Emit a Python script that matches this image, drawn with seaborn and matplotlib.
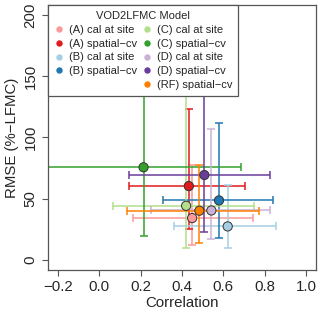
import matplotlib
matplotlib.use("Agg")
import matplotlib.pyplot as plt
from matplotlib.lines import Line2D
import seaborn as sns
import pandas as pd

models = ["(A) cal at site", "(A) spatial\u2212cv", "(B) cal at site", "(B) spatial\u2212cv",
          "(C) cal at site", "(C) spatial\u2212cv", "(D) cal at site", "(D) spatial\u2212cv",
          "(RF) spatial\u2212cv"]
corr = [0.449, 0.433, 0.621, 0.579, 0.420, 0.214, 0.542, 0.508, 0.484]
corr_lo = [0.163, 0.144, 0.359, 0.308, 0.067, -0.30, 0.251, 0.144, 0.136]
corr_hi = [0.741, 0.706, 0.854, 0.838, 0.749, 0.687, 0.825, 0.825, 0.770]
rmse = [34.3, 60.4, 27.5, 48.7, 44.3, 75.7, 40.5, 69.4, 40.3]
rmse_lo = [12.2, 25.0, 10.0, 17.7, 9.5, 19.6, 16.9, 22.9, 13.6]
rmse_hi = [77.5, 123.0, 61.2, 111.6, 165.0, 215.0, 106.7, 175.0, 77.8]
colors = ["#FB9A99", "#E31A1C", "#A6CEE3", "#1F78B4", "#B2DF8A", "#33A02C",
          "#CAB2D6", "#6A3D9A", "#FF7F00"]

df = pd.DataFrame({"model": models, "corr": corr, "rmse": rmse})

sns.set_style("ticks")
plt.rcParams["font.family"] = ["Liberation Sans", "DejaVu Sans"]

fig = plt.figure(figsize=(3.2, 3.15), dpi=100)
ax = fig.add_axes([0.15, 0.143, 0.8375, 0.841])

for i in range(len(models)):
    ax.errorbar(corr[i], rmse[i],
                xerr=[[corr[i] - corr_lo[i]], [corr_hi[i] - corr[i]]],
                yerr=[[rmse[i] - rmse_lo[i]], [rmse_hi[i] - rmse[i]]],
                fmt="none", ecolor=colors[i], elinewidth=1.1, capsize=2.6,
                capthick=1.1, zorder=2)

sns.scatterplot(data=df, x="corr", y="rmse", hue="model", palette=colors,
                s=44, edgecolor="#333333", linewidth=0.7, legend=False,
                ax=ax, zorder=3)

ax.set_xlim(-0.248, 1.048)
ax.set_ylim(-8, 208)
ax.set_xticks([-0.2, 0.0, 0.2, 0.4, 0.6, 0.8, 1.0])
ax.set_xticklabels(["\u22120.2", "0.0", "0.2", "0.4", "0.6", "0.8", "1.0"])
ax.set_yticks([0, 50, 100, 150, 200])
ax.set_yticklabels(["0", "50", "100", "150", "200"], rotation=90, va="center")
ax.tick_params(direction="out", length=4.5, width=0.8, color="#555555",
               labelsize=10.8, pad=3)
for s in ax.spines.values():
    s.set_color("#555555")
    s.set_linewidth(0.9)
ax.set_xlabel("Correlation", fontsize=10.8, labelpad=1)
ax.set_ylabel("RMSE (%\u2212LFMC)", fontsize=10.8, labelpad=3)

handles = []
labels = []
for i in range(4):
    handles.append(Line2D([], [], marker="o", linestyle="none", color=colors[i],
                          markersize=3.6))
    labels.append(models[i])
handles.append(Line2D([], [], linestyle="none"))
labels.append("")
for i in range(4, 9):
    handles.append(Line2D([], [], marker="o", linestyle="none", color=colors[i],
                          markersize=3.6))
    labels.append(models[i])

leg = ax.legend(handles, labels, ncol=2, loc="upper left", bbox_to_anchor=(0, 1),
                borderaxespad=0, title="VOD2LFMC Model", fontsize=8.0,
                title_fontsize=8.0, fancybox=False, framealpha=1,
                edgecolor="#555555", handlelength=0.8, handletextpad=0.5,
                columnspacing=0.5, labelspacing=0.34, borderpad=0.55)
leg.get_frame().set_linewidth(0.9)
leg.set_zorder(5)

fig.savefig("out.png", dpi=100)
